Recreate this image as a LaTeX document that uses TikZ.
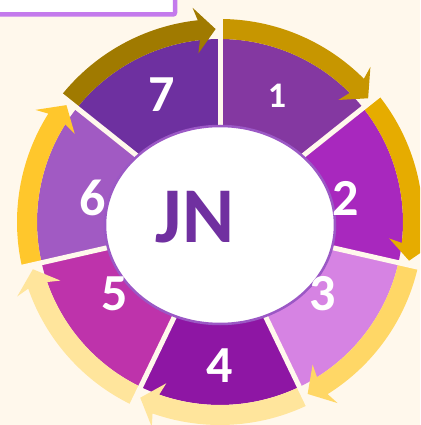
\documentclass[tikz,border=0pt]{standalone}
\usepackage{fontspec}
\setmainfont{Carlito}
\usetikzlibrary{shapes.geometric, positioning}
\definecolor{bgcream}{RGB}{255, 248, 236}
\definecolor{notelilac}{RGB}{196, 122, 236}
\definecolor{segone}{RGB}{132, 56, 161}
\definecolor{segtwo}{RGB}{168, 40, 190}
\definecolor{segthree}{RGB}{214, 131, 227}
\definecolor{segfour}{RGB}{142, 22, 164}
\definecolor{segfive}{RGB}{190, 51, 171}
\definecolor{segsix}{RGB}{161, 90, 195}
\definecolor{segseven}{RGB}{110, 48, 160}
\definecolor{arrseven}{RGB}{160, 122, 0}
\definecolor{arrone}{RGB}{199, 150, 0}
\definecolor{arrtwo}{RGB}{230, 172, 0}
\definecolor{arrthree}{RGB}{255, 215, 102}
\definecolor{arrfour}{RGB}{255, 229, 156}
\definecolor{arrsix}{RGB}{255, 199, 44}
\definecolor{hubpurple}{RGB}{155, 88, 197}
\definecolor{jnpurple}{RGB}{112, 48, 160}
% ring arrow: start angle, end angle, colour
\newcommand{\ringarrow}[3]{%
  \fill[#3] (#1:183) arc[start angle=#1, end angle={#2+6.3}, radius=183]
    -- ({#2+7.3}:170) -- ({#2+1.3}:193) -- ({#2+7.3}:216)
    -- ({#2+6.3}:203) arc[start angle={#2+6.3}, end angle=#1, radius=203] -- cycle;}
\tikzset{
    gapline/.style={
        draw=bgcream,
        line width=5pt,
    },
    hub/.style={
        draw=hubpurple,
        fill=white,
        ellipse,
        line width=2.5pt,
        minimum width=230pt,
        minimum height=198pt,
        inner sep=0pt,
    },
    numlabel/.style={
        font=\fontsize{52}{52}\selectfont\bfseries,
        text=white,
        inner sep=0pt,
    },
    notebox/.style={
        draw=notelilac,
        fill=white,
        line width=4.5pt,
        rounded corners=2pt,
    },
}

\begin{document}
\begin{tikzpicture}[x=1pt, y=1pt]

% ===== 背景 =====
\path[use as bounding box, fill=bgcream] (-220,-203) rectangle (200,222);
\clip (-220,-203) rectangle (200,222);
\draw[notebox] (-240,207.5) rectangle (-45,240);

% ===== 扇区 =====
\fill[segone] (0,0) -- (90:183) arc[start angle=90, end angle=38.57, radius=183] -- cycle;
\fill[segtwo] (0,0) -- (38.57:183) arc[start angle=38.57, end angle=-12.86, radius=183] -- cycle;
\fill[segthree] (0,0) -- (-12.86:183) arc[start angle=-12.86, end angle=-64.29, radius=183] -- cycle;
\fill[segfour] (0,0) -- (-64.29:183) arc[start angle=-64.29, end angle=-115.71, radius=183] -- cycle;
\fill[segfive] (0,0) -- (-115.71:183) arc[start angle=-115.71, end angle=-167.14, radius=183] -- cycle;
\fill[segsix] (0,0) -- (192.86:183) arc[start angle=192.86, end angle=141.43, radius=183] -- cycle;
\fill[segseven] (0,0) -- (141.43:183) arc[start angle=141.43, end angle=90, radius=183] -- cycle;

% ===== 外圈箭头 =====
\ringarrow{90}{38.57}{arrone}
\ringarrow{38.57}{-12.86}{arrtwo}
\ringarrow{-12.86}{-64.29}{arrthree}
\ringarrow{-64.29}{-115.71}{arrfour}
\ringarrow{-115.71}{-167.14}{arrfour}
\ringarrow{192.86}{141.43}{arrsix}
\ringarrow{141.43}{90}{arrseven}

% ===== 分隔线 =====
\draw[gapline] (0,0) -- (90:206);
\draw[gapline] (0,0) -- (38.57:206);
\draw[gapline] (0,0) -- (-12.86:206);
\draw[gapline] (0,0) -- (-64.29:206);
\draw[gapline] (0,0) -- (-115.71:206);
\draw[gapline] (0,0) -- (-167.14:206);
\draw[gapline] (0,0) -- (141.43:206);

% ===== 中心 =====
\node[hub] (hub) at (0,-3) {};
\node[font=\fontsize{79}{79}\selectfont\bfseries, text=jnpurple, inner sep=0pt] (jn) at (-25,5) {JN};

% ===== 编号 =====
\node[numlabel, font=\fontsize{36}{36}\selectfont\bfseries] (n1) at (57,126) {1};
\node[numlabel] (n2) at (126,24) {2};
\node[numlabel] (n3) at (103,-72) {3};
\node[numlabel] (n4) at (0,-144) {4};
\node[numlabel] (n5) at (-105,-72) {5};
\node[numlabel] (n6) at (-127,24) {6};
\node[numlabel] (n7) at (-58,127) {7};

\end{tikzpicture}
\end{document}
